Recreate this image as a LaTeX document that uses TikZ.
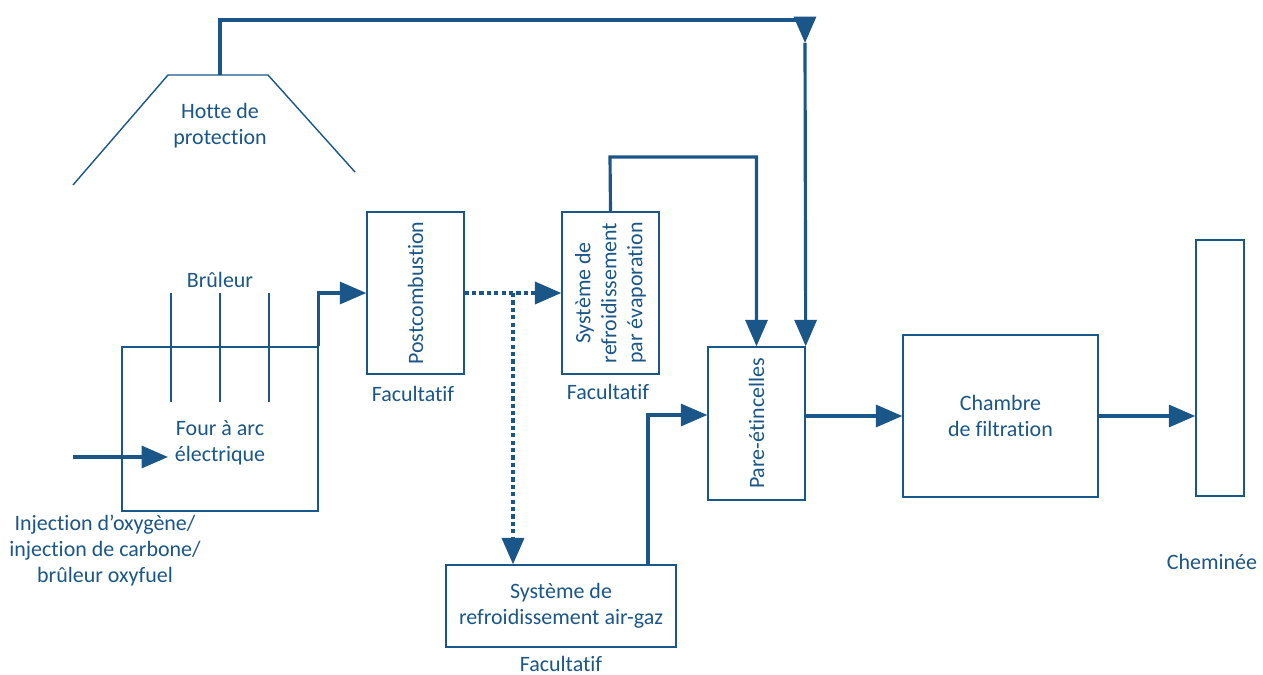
\documentclass[tikz,border=0pt]{standalone}
\usepackage{fontspec}
\setmainfont[Ligatures={NoCommon}]{Carlito}
\usepackage{tikz}
\usetikzlibrary{positioning,arrows.meta}
\definecolor{flowblue}{RGB}{27,86,136}

\tikzset{
    box/.style={draw=flowblue, line width=0.8pt, inner sep=0pt},
    flow/.style={draw=flowblue, line width=1.8pt, -{Triangle[length=15pt,width=12.5pt]}},
    dotflow/.style={flow, line width=2.1pt, dash pattern=on 2.4pt off 1.8pt},
    txt/.style={text=flowblue, align=center, inner sep=0pt, font=\fontsize{12.5}{14.8}\selectfont}
}

\begin{document}
\begin{tikzpicture}[x=0.02cm, y=-0.02cm]
        \useasboundingbox (0,0) rectangle (1263,675);

        % Hood over the furnace
        \draw[flowblue, line width=0.8pt] (73,185) -- (168,75) -- (268,75) -- (355,172);
        \node[txt] (hotte) at (220,126) {Hotte de\\protection};
        \coordinate (hoodtop) at (220,75);

        % Furnace and burners
        \node[box, minimum width=3.92cm, minimum height=3.28cm] (four) at (220,429) {};
        \node[txt] (fourtxt) at (220,443) {Four à arc\\électrique};
        \foreach \x in {171,220,269} {
            \draw[flowblue, line width=0.8pt] (\x,293) -- (\x,402);
        }
        \node[txt] (bruleur) at (220,280) {Brûleur};

        % Injection
        \coordinate (inj) at (73,457);
        \coordinate (injend) at (168,457);
        \node[txt] (injtxt) at (105,551) {Injection d’oxygène/\\injection de carbone/\\brûleur oxyfuel};

        % Treatment boxes
        \node[box, minimum width=1.94cm, minimum height=3.24cm] (post) at (415.5,293) {};
        \node[txt, rotate=90] at (post) {Postcombustion};
        \node[txt] (fac1) at (413,394) {Facultatif};

        \node[box, minimum width=1.94cm, minimum height=3.24cm] (evap) at (610.5,293) {};
        \node[txt, rotate=90] at (evap) {Système de\\refroidissement\\par évaporation};
        \node[txt] (fac2) at (608,392) {Facultatif};

        \node[box, minimum width=4.6cm, minimum height=1.64cm] (airgaz) at (561,606) {};
        \node[txt] at (airgaz) {Système de\\refroidissement air-gaz};
        \node[txt] (fac3) at (561,664) {Facultatif};

        \node[box, minimum width=1.94cm, minimum height=3.06cm] (pare) at (756.5,423.5) {};
        \node[txt, rotate=90] at (pare) {Pare-étincelles};

        \node[box, minimum width=3.9cm, minimum height=3.24cm] (chambre) at (1000.5,416) {};
        \node[txt] at (chambre) {Chambre\\de filtration};

        \node[box, minimum width=0.96cm, minimum height=5.12cm] (chem) at (1220,368) {};
        \node[txt] (chemtxt) at (1212,562) {Cheminée};

        % Connections
        \draw[flow] (inj) -- (injend);
        \draw[flow] (four.north east) |- (post.west);
        \coordinate (split) at (513,293);
        \draw[dotflow] (post.east) -- (evap.west);
        \draw[dotflow] (split) -- (split |- airgaz.north);

        \coordinate (evapup) at (610,157);
        \draw[flow] (evap.north) -- (evapup) -| (pare.north);

        \coordinate (ret) at (805,20);
        \coordinate (retmid) at (805,43);
        \draw[flow] (hoodtop) |- (ret) -- (retmid);
        \draw[flow] (retmid) -- (pare.north east);

        \coordinate (airup) at (648,565);
        \draw[flow] (airup) |- ([yshift=0.17cm]pare.west);
        \draw[flow] (pare.east |- chambre.west) -- (chambre.west);
        \draw[flow] (chambre.east) -- (chem.west |- chambre.east);
    \end{tikzpicture}
\end{document}
